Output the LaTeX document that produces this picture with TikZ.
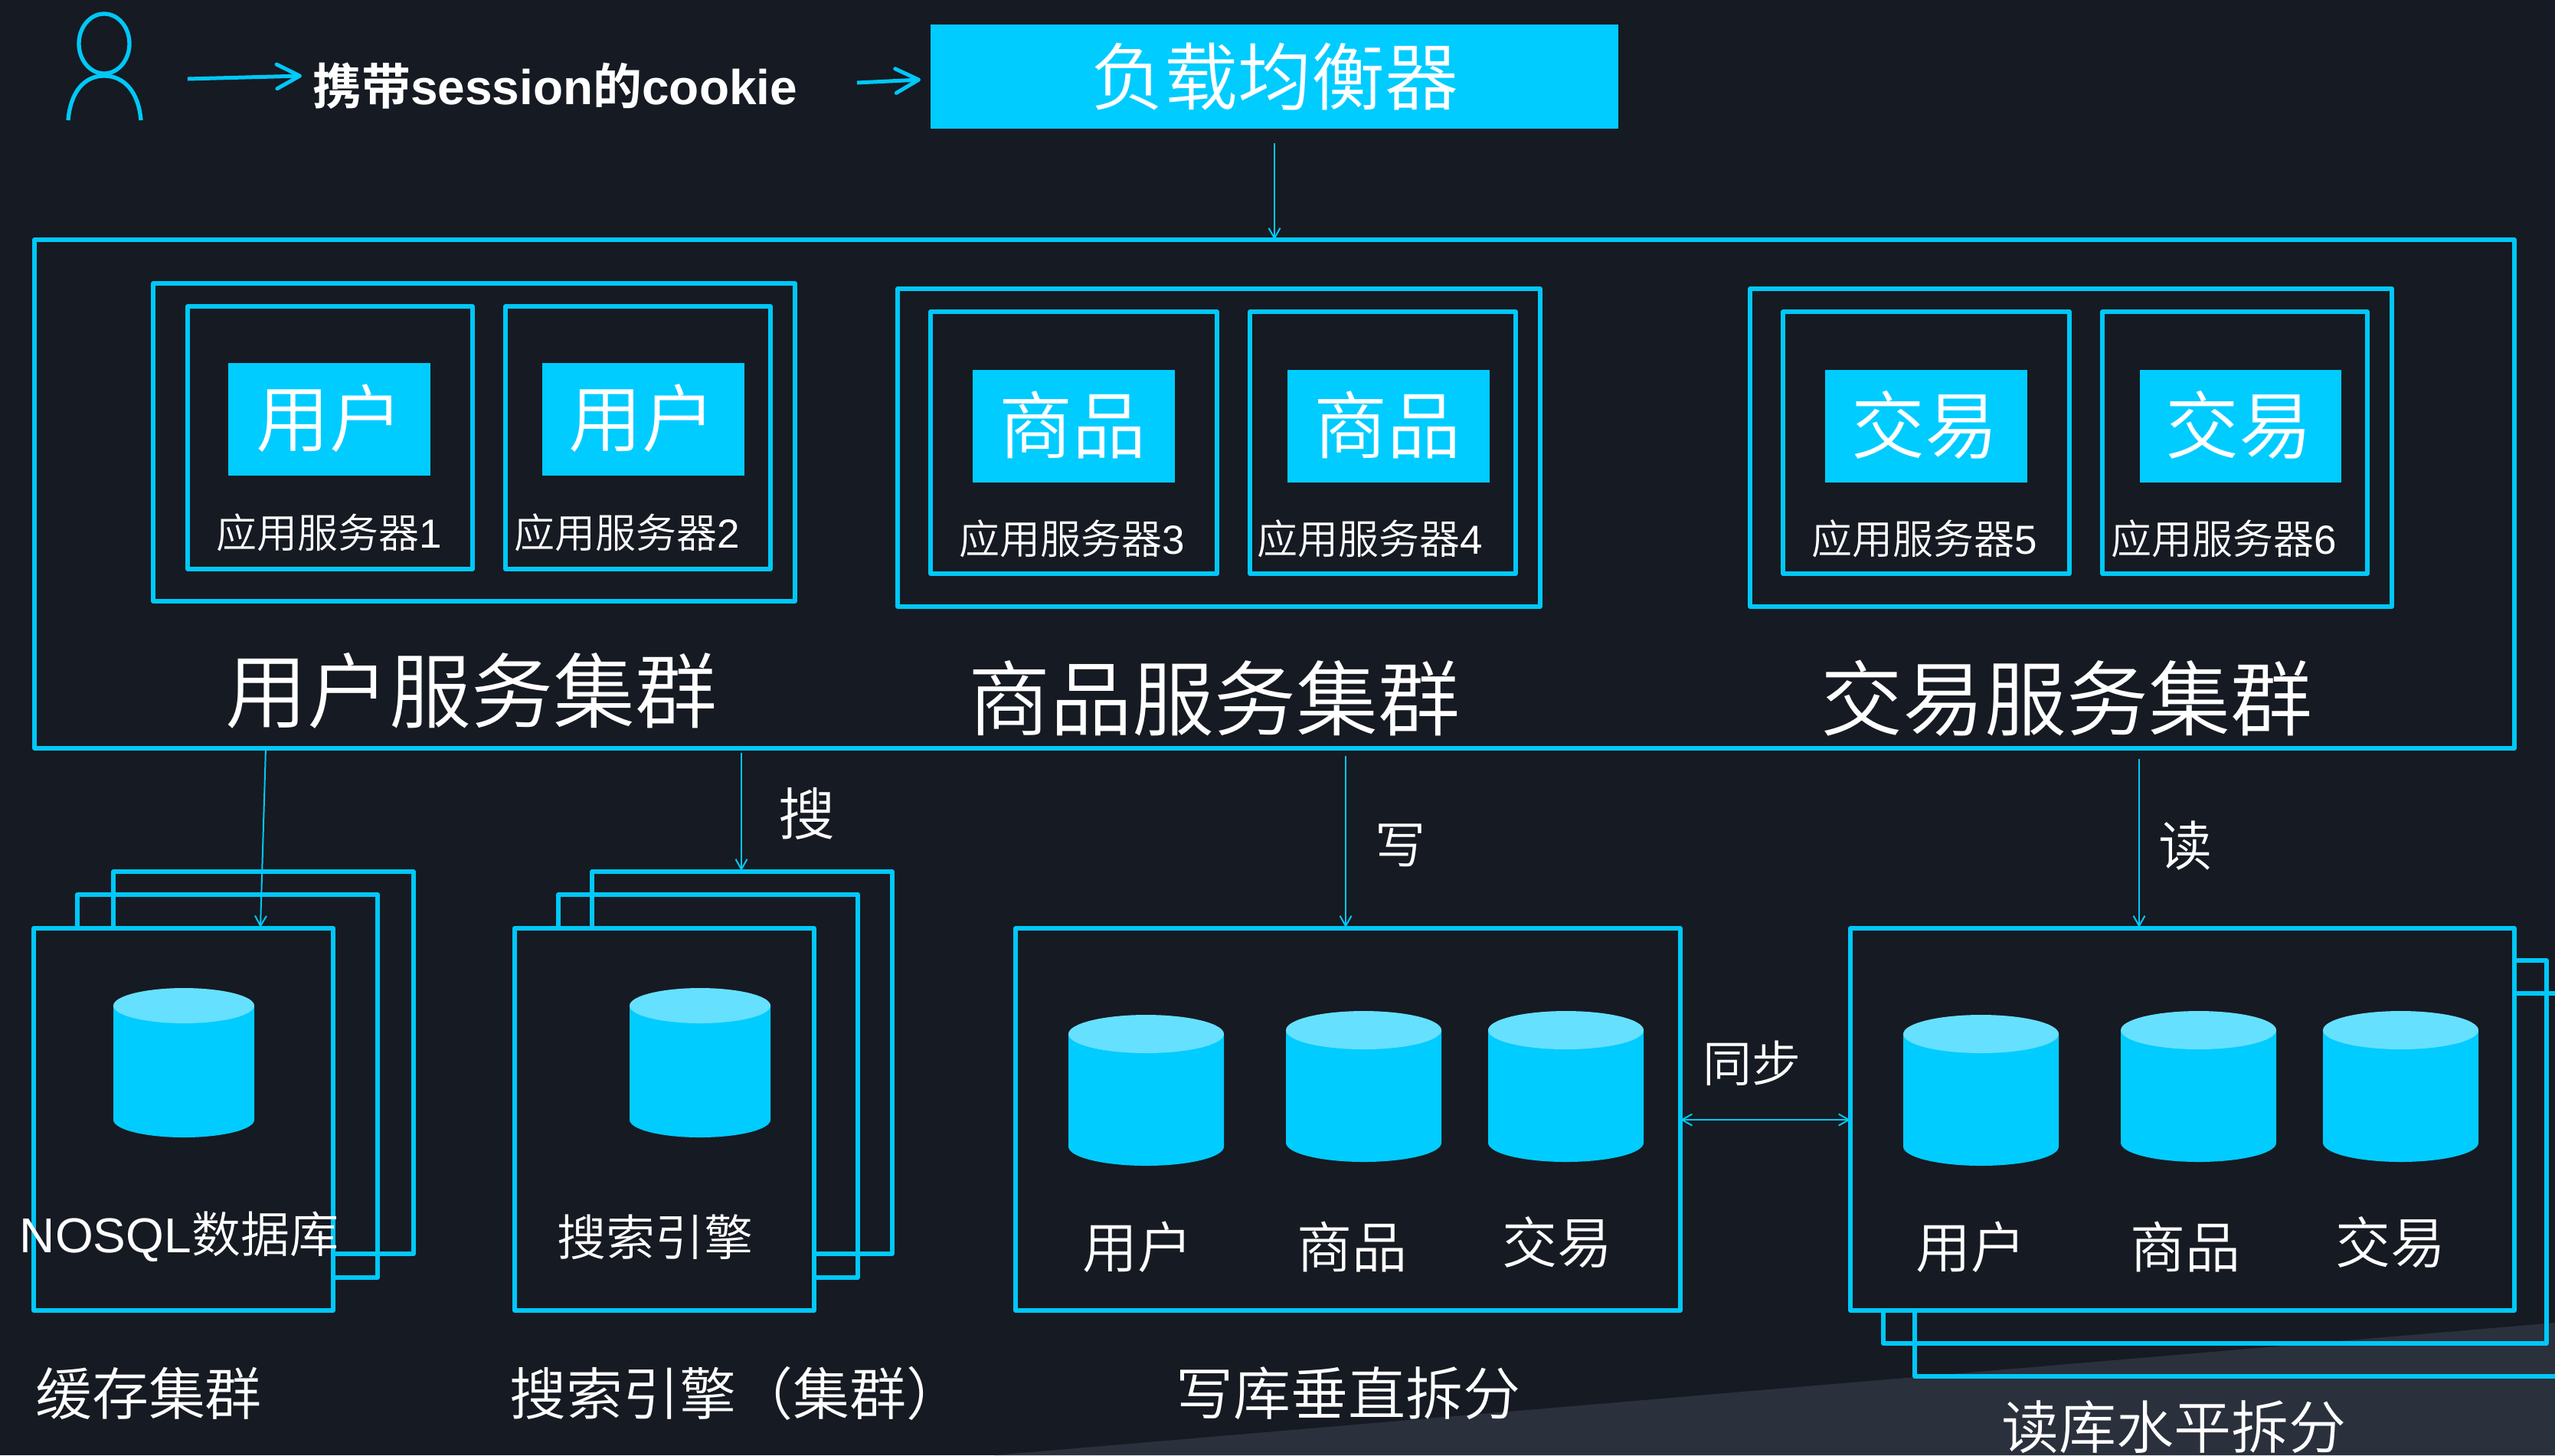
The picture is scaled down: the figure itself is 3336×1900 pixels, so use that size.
\documentclass[tikz,border=0pt]{standalone}
\usepackage{fontspec}
\usetikzlibrary{arrows.meta}
\setmainfont{Noto Sans CJK SC DemiLight}
\newfontfamily\boldcjk{Noto Sans CJK SC Bold}
\newfontfamily\boldlat{Liberation Sans Bold}
\newfontfamily\latn{Liberation Sans}
\definecolor{bgdark}{HTML}{161A22}
\definecolor{bgpale}{HTML}{2A303C}
\definecolor{cyanline}{HTML}{00C8F8}
\definecolor{cyanfill}{HTML}{00CCFF}
\definecolor{cyantop}{HTML}{66E0FF}
\newcommand\pxs[1]{\fontsize{\fpeval{#1*0.3}}{\fpeval{#1*0.36}}\selectfont}
\tikzset{
  x=0.3pt,y=-0.3pt,
  framebox/.style={draw=cyanline,line width=1.6pt,inner sep=0pt,outer sep=0pt,line join=round},
  framefill/.style={framebox,fill=bgdark},
  solidbox/.style={fill=cyanfill,inner sep=0pt,outer sep=0pt},
  lbl/.style={text=white,inner sep=0pt,outer sep=0pt,align=center},
  thinarrow/.style={draw=cyanline,line width=0.6pt,-{Straight Barb[length=4pt,width=4.5pt,line width=0.6pt]}},
  thickarrow/.style={draw=cyanline,line width=1.5pt,-{Straight Barb[length=9pt,width=9.5pt,line width=1.5pt,round]}},
}
\newcommand\bx[6]{\node[#1,minimum width={(#5-#3)*0.3pt},minimum height={(#6-#4)*0.3pt}] (#2) at ({(#3+#5)/2},{(#4+#6)/2}) {};}
\newcommand\cyl[5]{%
  \fill[cyanfill] (#1,#3) -- (#1,#4) arc[start angle=180,end angle=0,x radius={(#2-#1)/2},y radius=#5] -- (#2,#3) -- cycle;
  \fill[cyantop] ({(#1+#2)/2},#3) ellipse[x radius={(#2-#1)/2},y radius=#5];}
\newcommand\tx[4]{\node[lbl] (#1) at (#2) {\pxs{#3}#4};}
\begin{document}
\begin{tikzpicture}
\useasboundingbox (0,0) rectangle (3336,1900);
\fill[bgdark] (0,0) rectangle (3336,1900);
\fill[bgpale] (1298,1900) -- (3336,1727) -- (3336,1900) -- cycle;

% user icon
\draw[cyanline,line width=1.6pt] (136,57) ellipse[x radius=33,y radius=39];
\draw[cyanline,line width=1.6pt] (89,157) .. controls (92,120) and (110,99) .. (136,99) .. controls (162,99) and (181,120) .. (184,157);

% top row
\bx{solidbox}{lb}{1215}{32}{2113}{168}
\tx{lbtext}{1664,100}{96}{负载均衡器}
\node[lbl,anchor=west] (cookie) at (408,112) {\pxs{64}{\boldcjk 携带}{\boldlat session}{\boldcjk 的}{\boldlat cookie}};
\coordinate (a1) at (245,103);
\coordinate (a1e) at (394,99);
\coordinate (a2) at (1119,108);
\coordinate (a2e) at (1202,104);
\draw[thickarrow] (a1) -- (a1e);
\draw[thickarrow] (a2) -- (a2e);

% outer cluster frame
\bx{framebox}{outer}{45}{313}{3283}{977}

% user group
\bx{framebox}{g1}{200}{370}{1038}{785}
\bx{framebox}{s1}{245}{400}{617}{743}
\bx{framebox}{s2}{660}{400}{1006}{743}
\bx{solidbox}{f1}{298}{474}{562}{621}
\bx{solidbox}{f2}{708}{474}{972}{621}
\tx{t1}{430,546}{96}{用户}
\tx{t2}{838,546}{96}{用户}
\tx{l1}{430,695}{53}{应用服务器{\latn 1}}
\tx{l2}{819,695}{53}{应用服务器{\latn 2}}
\tx{c1}{615,902}{107}{用户服务集群}

% goods group
\bx{framebox}{g2}{1172}{377}{2011}{792}
\bx{framebox}{s3}{1215}{407}{1589}{749}
\bx{framebox}{s4}{1632}{407}{1979}{749}
\bx{solidbox}{f3}{1270}{483}{1534}{630}
\bx{solidbox}{f4}{1681}{483}{1945}{630}
\tx{t3}{1400,555}{96}{商品}
\tx{t4}{1811,555}{96}{商品}
\tx{l3}{1400,703}{53}{应用服务器{\latn 3}}
\tx{l4}{1789,703}{53}{应用服务器{\latn 4}}
\tx{c2}{1585,912}{107}{商品服务集群}

% trade group
\bx{framebox}{g3}{2285}{377}{3123}{792}
\bx{framebox}{s5}{2328}{407}{2702}{749}
\bx{framebox}{s6}{2745}{407}{3091}{749}
\bx{solidbox}{f5}{2383}{483}{2647}{630}
\bx{solidbox}{f6}{2794}{483}{3057}{630}
\tx{t5}{2513,555}{96}{交易}
\tx{t6}{2923,555}{96}{交易}
\tx{l5}{2513,703}{53}{应用服务器{\latn 5}}
\tx{l6}{2904,703}{53}{应用服务器{\latn 6}}
\tx{c3}{2698,912}{107}{交易服务集群}

% cache stack
\bx{framebox}{cb}{148}{1138}{540}{1637}
\bx{framebox}{cm}{101}{1168}{493}{1668}
\bx{framefill}{cf}{44}{1212}{435}{1711}
\cyl{148}{332}{1313}{1462}{23}
\tx{cl}{234,1615}{64}{{\latn NOSQL}数据库}
\tx{ct}{194,1819}{74}{缓存集群}

% search stack
\bx{framebox}{sb}{773}{1138}{1165}{1637}
\bx{framebox}{sm}{729}{1168}{1120}{1668}
\bx{framefill}{sf}{672}{1212}{1063}{1711}
\cyl{822}{1006}{1313}{1462}{23}
\tx{sl}{855,1615}{64}{搜索引擎}
\node[lbl,anchor=west] (st) at (665,1819) {\pxs{74}搜索引擎（集群）};

% write store
\bx{framefill}{wf}{1326}{1212}{2194}{1711}
\cyl{1395}{1598}{1350}{1497}{25}
\cyl{1679}{1882}{1345}{1492}{25}
\cyl{1943}{2146}{1345}{1492}{25}
\tx{w1}{1485,1628}{72}{用户}
\tx{w2}{1765,1628}{72}{商品}
\tx{w3}{2033,1622}{72}{交易}
\tx{wt}{1760,1819}{75}{写库垂直拆分}

% read store
\draw[draw=cyanline,line width=1.6pt,line join=round] (3336,1297) -- (2500,1297) -- (2500,1797) -- (3336,1797);
\bx{framebox}{rm}{2459}{1254}{3325}{1754}
\bx{framefill}{rf}{2416}{1212}{3283}{1711}
\cyl{2485}{2688}{1350}{1497}{25}
\cyl{2769}{2972}{1345}{1492}{25}
\cyl{3033}{3236}{1345}{1492}{25}
\tx{r1}{2573,1628}{72}{用户}
\tx{r2}{2853,1628}{72}{商品}
\tx{r3}{3121,1622}{72}{交易}
\tx{rt}{2838,1863}{75}{读库水平拆分}

% side labels
\tx{ts}{1053,1062}{74}{搜}
\tx{tw}{1828,1104}{66}{写}
\tx{tr}{2853,1104}{70}{读}
\tx{tb}{2287,1388}{64}{同步}

% thin connectors
\coordinate (d1s) at (347,977);
\coordinate (d1e) at (340,1211);
\coordinate (d2s) at (968,983);
\coordinate (d2e) at (968,1137);
\coordinate (d3s) at (1757,987);
\coordinate (d3e) at (1757,1211);
\coordinate (d4s) at (2793,991);
\coordinate (d4e) at (2793,1211);
\draw[thinarrow,shorten <=5.7pt] (lb.south) -- (outer.north);
\draw[thinarrow] (d1s) -- (d1e);
\draw[thinarrow] (d2s) -- (d2e);
\draw[thinarrow] (d3s) -- (d3e);
\draw[thinarrow] (d4s) -- (d4e);
\coordinate (syncl) at (2194,1462);
\coordinate (syncr) at (2416,1462);
\draw[thinarrow,{Straight Barb[length=4pt,width=4.5pt,line width=0.6pt]}-{Straight Barb[length=4pt,width=4.5pt,line width=0.6pt]}] (syncl) -- (syncr);
\end{tikzpicture}
\end{document}
